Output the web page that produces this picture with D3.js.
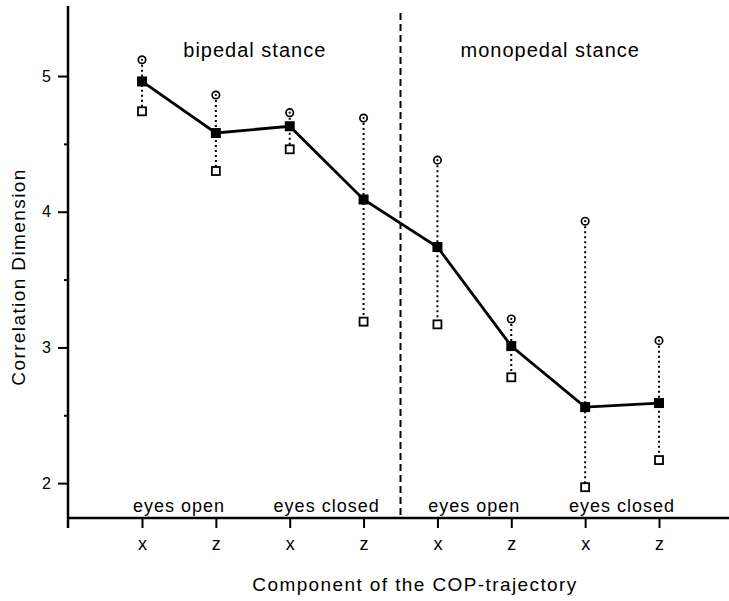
<!DOCTYPE html>
<html>
<head>
<meta charset="utf-8">
<script src="https://cdn.jsdelivr.net/npm/d3@7"></script>
<style>
  body { margin: 0; background: #fff; }
  svg { display: block; font-family: "Liberation Sans", Arial, sans-serif; }
</style>
</head>
<body>
<script>
// data
var components = ["x", "z", "x", "z", "x", "z", "x", "z"];
var meanDim   = [4.96, 4.58, 4.63, 4.09, 3.74, 3.01, 2.56, 2.59];  // filled squares
var upperDim  = [5.12, 4.86, 4.73, 4.69, 4.38, 3.21, 3.93, 3.05];  // open circles
var lowerDim  = [4.74, 4.30, 4.46, 3.19, 3.17, 2.78, 1.97, 2.17];  // open squares
var conditions = ["eyes open", "eyes closed", "eyes open", "eyes closed"];
var stances = ["bipedal stance", "monopedal stance"];
var majorTicks = [2, 3, 4, 5];
var minorTicks = [2.5, 3.5, 4.5];

var width = 729, height = 601;

var svg = d3.select("body")
    .append("svg")
    .attr("width", width)
    .attr("height", height);

// scales
var x = d3.scalePoint()
    .domain(d3.range(components.length))
    .range([142, 659]);

var y = d3.scaleLinear()
    .domain([1.743, 5.516])
    .range([518, 6]);

var axisY = 518, axisX = 68;

// y axis (major + minor ticks)
var gy = svg.append("g")
    .attr("transform", "translate(" + axisX + ",0)")
    .call(d3.axisLeft(y).tickValues(majorTicks).tickSize(10).tickPadding(7)
        .tickFormat(d3.format("d")));
gy.select(".domain").remove();
gy.selectAll(".tick line").attr("stroke-width", 2);
gy.selectAll(".tick text").attr("font-size", 16).attr("font-family", "Liberation Sans, Arial, sans-serif");

var gyMinor = svg.append("g")
    .attr("transform", "translate(" + axisX + ",0)")
    .call(d3.axisLeft(y).tickValues(minorTicks).tickSize(4).tickFormat(""));
gyMinor.select(".domain").remove();
gyMinor.selectAll(".tick line").attr("stroke-width", 2);

svg.append("line")
    .attr("x1", axisX).attr("x2", axisX)
    .attr("y1", y.range()[1]).attr("y2", axisY + 10)
    .attr("stroke", "#000").attr("stroke-width", 2.5);

// x axis
var gx = svg.append("g")
    .attr("transform", "translate(0," + axisY + ")")
    .call(d3.axisBottom(x).tickSize(10).tickPadding(9)
        .tickFormat(function(i) { return components[i]; }));
gx.select(".domain").remove();
gx.selectAll(".tick line").attr("stroke-width", 2);
gx.selectAll(".tick text").attr("font-size", 18).attr("font-family", "Liberation Sans, Arial, sans-serif");

svg.append("line")
    .attr("x1", axisX).attr("x2", width)
    .attr("y1", axisY).attr("y2", axisY)
    .attr("stroke", "#000").attr("stroke-width", 2.5);

// separator between stances
var sepX = (x(3) + x(4)) / 2;
svg.append("line")
    .attr("x1", sepX).attr("x2", sepX)
    .attr("y1", 13).attr("y2", axisY)
    .attr("stroke", "#000").attr("stroke-width", 2)
    .attr("stroke-dasharray", "7,4");

// condition labels above the x axis
svg.selectAll(".cond")
    .data(conditions)
    .enter()
    .append("text")
    .attr("class", "cond")
    .attr("x", function(d, i) { return (x(2 * i) + x(2 * i + 1)) / 2; })
    .attr("y", 512)
    .attr("text-anchor", "middle")
    .attr("font-size", 18)
    .attr("letter-spacing", 1)
    .text(function(d) { return d; });

// stance labels
svg.selectAll(".stance")
    .data(stances)
    .enter()
    .append("text")
    .attr("class", "stance")
    .attr("x", function(d, i) { return (x(4 * i + 1) + x(4 * i + 2)) / 2 + 2; })
    .attr("y", 57)
    .attr("text-anchor", "middle")
    .attr("font-size", 20)
    .attr("letter-spacing", 1)
    .text(function(d) { return d; });

// dotted range lines
svg.selectAll(".range")
    .data(components)
    .enter()
    .append("line")
    .attr("class", "range")
    .attr("x1", function(d, i) { return x(i); })
    .attr("x2", function(d, i) { return x(i); })
    .attr("y1", function(d, i) { return y(upperDim[i]); })
    .attr("y2", function(d, i) { return y(lowerDim[i]); })
    .attr("stroke", "#000")
    .attr("stroke-width", 2)
    .attr("stroke-dasharray", "2,3");

// mean line
var line = d3.line()
    .x(function(d, i) { return x(i); })
    .y(function(d) { return y(d); });

svg.append("path")
    .datum(meanDim)
    .attr("d", line)
    .attr("fill", "none")
    .attr("stroke", "#000")
    .attr("stroke-width", 2.8);

// open squares (lower)
svg.selectAll(".low")
    .data(lowerDim)
    .enter()
    .append("rect")
    .attr("class", "low")
    .attr("x", function(d, i) { return x(i) - 4; })
    .attr("y", function(d) { return y(d) - 4; })
    .attr("width", 8).attr("height", 8)
    .attr("fill", "#fff").attr("stroke", "#000").attr("stroke-width", 1.8);

// open circles (upper)
svg.selectAll(".up")
    .data(upperDim)
    .enter()
    .append("circle")
    .attr("class", "up")
    .attr("cx", function(d, i) { return x(i); })
    .attr("cy", function(d) { return y(d); })
    .attr("r", 3.7)
    .attr("fill", "#fff").attr("stroke", "#000").attr("stroke-width", 1.7);

svg.selectAll(".updot")
    .data(upperDim)
    .enter()
    .append("circle")
    .attr("class", "updot")
    .attr("cx", function(d, i) { return x(i); })
    .attr("cy", function(d) { return y(d); })
    .attr("r", 1.1)
    .attr("fill", "#000");

// filled squares (mean)
svg.selectAll(".mean")
    .data(meanDim)
    .enter()
    .append("rect")
    .attr("class", "mean")
    .attr("x", function(d, i) { return x(i) - 5; })
    .attr("y", function(d) { return y(d) - 5; })
    .attr("width", 10).attr("height", 10)
    .attr("fill", "#000");

// axis titles
svg.append("text")
    .attr("transform", "translate(25,277) rotate(-90)")
    .attr("text-anchor", "middle")
    .attr("font-size", 19)
    .attr("letter-spacing", 1.4)
    .text("Correlation Dimension");

svg.append("text")
    .attr("x", 415)
    .attr("y", 591)
    .attr("text-anchor", "middle")
    .attr("font-size", 19)
    .attr("letter-spacing", 1.4)
    .text("Component of the COP-trajectory");
</script>
</body>
</html>
